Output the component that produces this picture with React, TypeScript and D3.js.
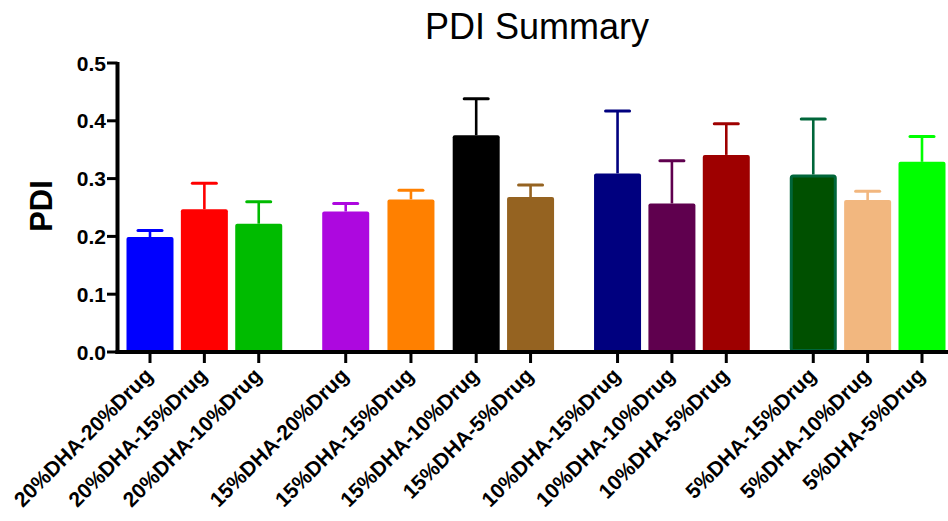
import React from 'react';
import * as d3 from 'd3';

// PDI summary data (mean + SD)
const categories = [
  '20%DHA-20%Drug', '20%DHA-15%Drug', '20%DHA-10%Drug',
  '15%DHA-20%Drug', '15%DHA-15%Drug', '15%DHA-10%Drug', '15%DHA-5%Drug',
  '10%DHA-15%Drug', '10%DHA-10%Drug', '10%DHA-5%Drug',
  '5%DHA-15%Drug', '5%DHA-10%Drug', '5%DHA-5%Drug',
];
const means = [0.199, 0.247, 0.222, 0.243, 0.264, 0.375, 0.268, 0.309, 0.257, 0.341, 0.307, 0.263, 0.329];
const sds = [0.011, 0.045, 0.038, 0.014, 0.016, 0.063, 0.021, 0.108, 0.074, 0.054, 0.096, 0.015, 0.044];
const yTicks = [0.0, 0.1, 0.2, 0.3, 0.4, 0.5];

const colors = [
  '#0000FF', '#FF0000', '#00BB00',
  '#AD08DF', '#FF8000', '#000000', '#956321',
  '#00007F', '#5F004E', '#9E0000',
  '#005000', '#F2B77F', '#00FF00',
];
const borders: Record<number, string> = { 10: '#00663A' };

// column spacing in slot units (wider between groups, as in the original layout)
const spacing = [0, 5, 5, 8, 6, 6, 5, 8, 5, 5, 8, 5, 5];
const slots = d3.cumsum(spacing);

const width = 948;
const height = 521;
const font = '"Liberation Sans", Arial, Helvetica, sans-serif';

export default function App() {
  const x = d3.scaleLinear().domain([0, slots[slots.length - 1]]).range([150, 922]);
  const y = d3.scaleLinear().domain([0, 0.5]).range([352, 63]);
  const barW = 47;
  const capW = 24;
  const axisX = 117.5;

  return (
    <svg width={width} height={height} style={{ position: 'absolute', left: 0, top: 0, background: '#fff' }}
      fontFamily={font}>
      <text x={537} y={39} textAnchor="middle" fontSize={36}>PDI Summary</text>
      <text transform={`translate(52, 206) rotate(-90)`} textAnchor="middle" fontSize={31} fontWeight="bold">PDI</text>

      {/* bars */}
      {means.map((m, i) => {
        const cx = x(slots[i]);
        const b = borders[i];
        const inset = b ? 1.5 : 0;
        return (
          <g key={categories[i]}>
            <line x1={cx} x2={cx} y1={y(m)} y2={y(m + sds[i])} stroke={b || colors[i]} strokeWidth={2.6} />
            <line x1={cx - capW / 2} x2={cx + capW / 2} y1={y(m + sds[i])} y2={y(m + sds[i])}
              stroke={b || colors[i]} strokeWidth={3} strokeLinecap="round" />
            <rect x={cx - barW / 2 + inset} y={y(m) + inset}
              width={barW - 2 * inset} height={y(0) - y(m) - (b ? 3 : -2)}
              fill={colors[i]} stroke={b || 'none'} strokeWidth={b ? 3 : 0} rx={2} />
          </g>
        );
      })}

      {/* y axis */}
      <line x1={axisX} x2={axisX} y1={y(0.5) - 1} y2={y(0) + 2} stroke="#000" strokeWidth={4} />
      {yTicks.map(t => (
        <g key={t}>
          <line x1={107} x2={axisX} y1={y(t)} y2={y(t)} stroke="#000" strokeWidth={3} />
          <text x={106} y={y(t)} dy="0.36em" textAnchor="end" fontSize={21} fontWeight="bold">
            {d3.format('.1f')(t)}
          </text>
        </g>
      ))}

      {/* x axis */}
      <line x1={axisX - 2} x2={width} y1={y(0)} y2={y(0)} stroke="#000" strokeWidth={4} />
      {categories.map((c, i) => {
        const cx = x(slots[i]);
        return (
          <g key={c}>
            <line x1={cx} x2={cx} y1={y(0)} y2={y(0) + 11} stroke="#000" strokeWidth={3} />
            <text transform={`translate(${cx + 4}, 377) rotate(-45)`} textAnchor="end" fontSize={21}
              fontWeight="bold">{c}</text>
          </g>
        );
      })}
    </svg>
  );
}
